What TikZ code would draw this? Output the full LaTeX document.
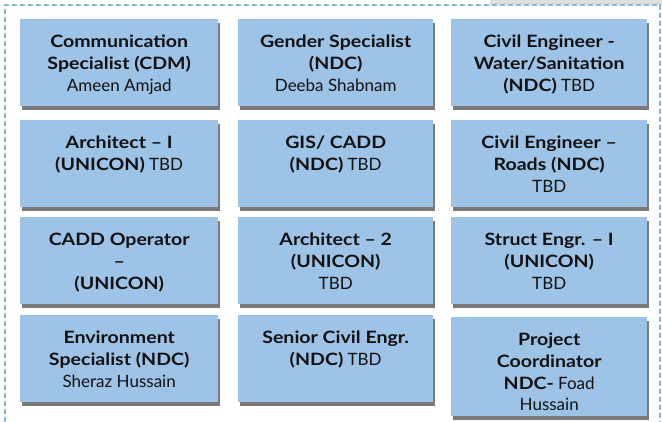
\documentclass[tikz,border=0pt]{standalone}
\usepackage{fontspec}
\setmainfont{Lato}[BoldFeatures={FakeStretch=1.15}]
\usetikzlibrary{shadows}
\definecolor{boxblue}{HTML}{9DC3E6}
\definecolor{dashblue}{HTML}{8FB4DC}
\definecolor{txt}{HTML}{111111}
\tikzset{
  card/.style={fill=boxblue, draw=none, inner sep=0pt, anchor=north west,
    drop shadow={shadow xshift=1.5pt, shadow yshift=-3.5pt, opacity=0.65, fill=black!80},
    font=\fontsize{17}{21.7}\selectfont, text=txt},
}
\newcommand{\cardtxt}[3]{\begin{minipage}[c][#2][t]{#1}\centering\vspace{16pt}#3\par\end{minipage}}
\begin{document}
\begin{tikzpicture}[x=1pt,y=-1pt]
\useasboundingbox (0,0) rectangle (662,421);
% top-right bar
\fill[black!12, drop shadow={shadow xshift=0pt, shadow yshift=-1.5pt, opacity=0.3}] (490,-5) rectangle (662,3);
% dashed frame
\draw[dashblue, dash pattern=on 5pt off 3pt, line width=1.1pt] (5,430) -- (5,5) -- (660,5) -- (660,430);
% row 1
\node[card] (a1) at (20,19) {\cardtxt{198pt}{87pt}{\textbf{Communication}\\\textbf{Specialist (CDM)}\\Ameen Amjad}};
\node[card] (a2) at (238,19) {\cardtxt{195pt}{87pt}{\textbf{Gender Specialist}\\\textbf{(NDC)}\\Deeba Shabnam}};
\node[card] (a3) at (451,19) {\cardtxt{196pt}{87pt}{\textbf{Civil Engineer -}\\\textbf{Water/Sanitation}\\\textbf{(NDC)} TBD}};
% row 2
\node[card] (b1) at (20,120) {\cardtxt{198pt}{87pt}{\textbf{Architect – I}\\\textbf{(UNICON)} TBD}};
\node[card] (b2) at (238,120) {\cardtxt{195pt}{87pt}{\textbf{GIS/ CADD}\\\textbf{(NDC)} TBD}};
\node[card] (b3) at (451,120) {\cardtxt{196pt}{87pt}{\textbf{Civil Engineer –}\\\textbf{Roads (NDC)}\\TBD}};
% row 3
\node[card] (c1) at (20,217) {\cardtxt{198pt}{87pt}{\textbf{CADD Operator}\\\textbf{–}\\\textbf{(UNICON)}}};
\node[card] (c2) at (238,217) {\cardtxt{195pt}{87pt}{\textbf{Architect – 2}\\\textbf{(UNICON)}\\TBD}};
\node[card] (c3) at (451,217) {\cardtxt{196pt}{87pt}{\textbf{Struct Engr. – I}\\\textbf{(UNICON)}\\TBD}};
% row 4
\node[card] (d1) at (20,315) {\cardtxt{198pt}{87pt}{\textbf{Environment}\\\textbf{Specialist (NDC)}\\Sheraz Hussain}};
\node[card] (d2) at (238,315) {\cardtxt{195pt}{87pt}{\textbf{Senior Civil Engr.}\\\textbf{(NDC)} TBD}};
\node[card] (d3) at (451,317) {\cardtxt{196pt}{99pt}{\textbf{Project}\\\textbf{Coordinator}\\\textbf{NDC-} Foad\\Hussain}};
\end{tikzpicture}
\end{document}
